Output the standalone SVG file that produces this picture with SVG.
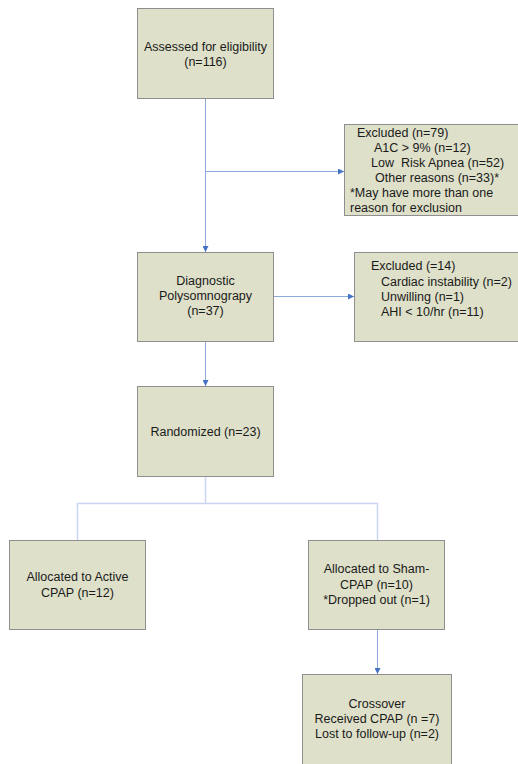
<svg xmlns="http://www.w3.org/2000/svg" width="518" height="764" viewBox="0 0 518 764">
<style>
.box{fill:#dee0c9;stroke:#8f8f8f;stroke-width:1}
text{font-family:"Liberation Sans",Arial,sans-serif;font-size:12.5px;fill:#1a1a1a}
.c{text-anchor:middle}
.ln{stroke:#8eaadc;stroke-width:1;fill:none}
.br{stroke:#c9d6ef;stroke-width:1.5;fill:none}
</style>
<defs>
<marker id="ah" viewBox="0 0 6 6" refX="6" refY="3" markerWidth="6" markerHeight="6" markerUnits="userSpaceOnUse" orient="auto">
<path d="M0,0 L6,3 L0,6 z" fill="#4472c4"/>
</marker>
</defs>
<rect width="518" height="764" fill="#fff"/>
<g id="connectors">
<line class="ln" x1="205.5" y1="98" x2="205.5" y2="252" marker-end="url(#ah)"/>
<line class="ln" x1="205.5" y1="171.5" x2="344" y2="171.5" marker-end="url(#ah)"/>
<line class="ln" x1="273" y1="296.5" x2="354" y2="296.5" marker-end="url(#ah)"/>
<line class="ln" x1="205.5" y1="341" x2="205.5" y2="386" marker-end="url(#ah)"/>
<path class="br" d="M205.5,476 V503.5 M77.5,540 V503.5 H377.5 V540"/>
<line class="ln" x1="377.5" y1="630" x2="377.5" y2="674" marker-end="url(#ah)"/>
</g>
<g id="assessed">
<rect class="box" x="137.5" y="8.5" width="136" height="90"/>
<text class="c" x="205.5" y="50.5">Assessed for eligibility</text>
<text class="c" x="205.5" y="65.5">(n=116)</text>
</g>
<g id="excluded1">
<rect class="box" x="344.5" y="124.5" width="180" height="91"/>
<text x="357" y="137">Excluded (n=79)</text>
<text x="374" y="152">A1C &gt; 9% (n=12)</text>
<text x="371" y="167" xml:space="preserve">Low  Risk Apnea (n=52)</text>
<text x="375" y="182">Other reasons (n=33)*</text>
<text x="350" y="197">*May have more than one</text>
<text x="350" y="211.5">reason for exclusion</text>
</g>
<g id="diagnostic">
<rect class="box" x="137.5" y="252.5" width="136" height="89"/>
<text class="c" x="205.5" y="285">Diagnostic</text>
<text class="c" x="205.5" y="300">Polysomnograpy</text>
<text class="c" x="205.5" y="315">(n=37)</text>
</g>
<g id="excluded2">
<rect class="box" x="354.5" y="252.5" width="170" height="89"/>
<text x="371" y="270">Excluded (=14)</text>
<text x="381" y="285.5">Cardiac instability (n=2)</text>
<text x="381" y="300.5">Unwilling (n=1)</text>
<text x="381" y="315.5">AHI &lt; 10/hr (n=11)</text>
</g>
<g id="randomized">
<rect class="box" x="137.5" y="386.5" width="136" height="90"/>
<text class="c" x="205.5" y="436">Randomized (n=23)</text>
</g>
<g id="active">
<rect class="box" x="9.5" y="540.5" width="136" height="89"/>
<text class="c" x="77.5" y="581">Allocated to Active</text>
<text class="c" x="77.5" y="597">CPAP (n=12)</text>
</g>
<g id="sham">
<rect class="box" x="308.5" y="540.5" width="136" height="89"/>
<text class="c" x="376.5" y="573">Allocated to Sham-</text>
<text class="c" x="376.5" y="589">CPAP (n=10)</text>
<text class="c" x="376.5" y="604">*Dropped out (n=1)</text>
</g>
<g id="crossover">
<rect class="box" x="302.5" y="674.5" width="149" height="100"/>
<text class="c" x="377" y="708">Crossover</text>
<text class="c" x="377" y="723">Received CPAP (n =7)</text>
<text class="c" x="377" y="738">Lost to follow-up (n=2)</text>
</g>
</svg>
